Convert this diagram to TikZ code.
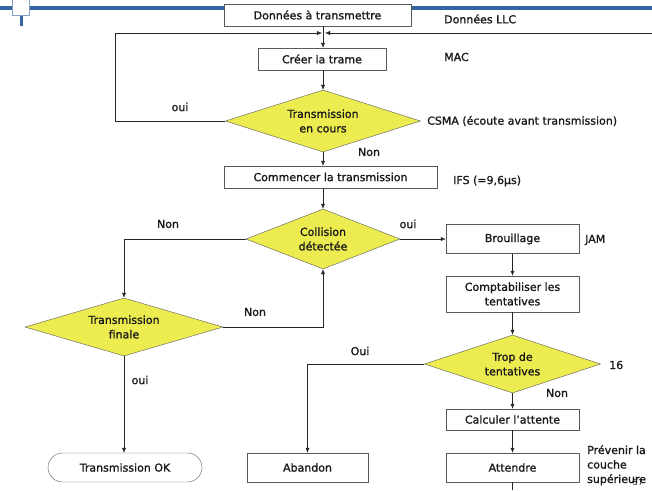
\documentclass[tikz,border=0pt]{standalone}
\usepackage{fontspec}
\setmainfont{DejaVu Sans}[BoldFont=DejaVu Sans, BoldFeatures={FakeBold=1.3}]
\usepackage{xcolor}
\usetikzlibrary{shapes.geometric,arrows.meta,positioning}
\definecolor{jaune}{RGB}{236,236,80}
\definecolor{bleu}{RGB}{52,101,160}

\begin{document}
\begin{tikzpicture}[x=1pt,y=-1pt,
  every node/.style={font=\fontsize{11}{14.5}\selectfont\bfseries, text=black!90},
  boite/.style={draw=black!65, fill=white, rectangle, inner sep=0pt, align=center},
  test/.style={draw=black!65, fill=jaune, diamond, inner sep=0pt, align=center},
  lab/.style={anchor=west, inner sep=0pt},
  fl/.style={-{Latex[length=5pt,width=4pt]}, draw=black!85},
  ln/.style={draw=black!85}]
\useasboundingbox (0,0) rectangle (652,490);

% Slide decoration
\fill[bleu] (0,6) rectangle (224,10);
\fill[bleu] (411,6) rectangle (652,10);
\fill[bleu] (20,15) rectangle (23,26);
\draw[bleu!60, fill=white] (12.5,-1) rectangle (29.5,15.5);

% Main column
\node[boite, minimum width=187pt, minimum height=22pt] (donnees) at (317.5,15) {Données à transmettre};
\coordinate (jonction) at (323,33);
\node[boite, minimum width=128pt, minimum height=22pt] (creer) at (322,59) {Créer la trame};
\node[test, shape aspect=3, minimum width=195pt, minimum height=62pt] (encours) at (323,121) {Transmission\\en cours};
\node[boite, minimum width=213pt, minimum height=22pt] (commencer) at (330.5,177) {Commencer la transmission};
\node[test, shape aspect=2.6, minimum width=154pt, minimum height=60pt] (collision) at (323,239) {Collision\\détectée};

% Right column
\node[boite, minimum width=133pt, minimum height=29pt] (brouillage) at (512.5,239) {Brouillage};
\node[boite, minimum width=133pt, minimum height=36pt] (compter) at (512.5,294) {Comptabiliser les\\tentatives};
\node[test, shape aspect=3, minimum width=176pt, minimum height=58pt] (trop) at (512.5,364) {Trop de\\tentatives};
\node[boite, minimum width=133pt, minimum height=21pt] (calculer) at (512.5,419.5) {Calculer l’attente};
\node[boite, minimum width=133pt, minimum height=29pt] (attendre) at (512.5,467.5) {Attendre};
\node[boite, minimum width=121pt, minimum height=29pt] (abandon) at (307.5,467.5) {Abandon};

% Left column
\node[test, shape aspect=3.4, minimum width=198pt, minimum height=58pt] (finale) at (124,327) {Transmission\\finale};
\node[boite, rounded corners=14.5pt, minimum width=154pt, minimum height=29pt] (ok) at (125,467.5) {Transmission OK};

% Connectors
\draw[ln] (donnees.south -| jonction) -- (jonction);
\draw[fl] (jonction) -- (jonction |- creer.north);
\draw[fl] (652,33) -- ([xshift=2pt]jonction);
\draw[fl] (encours.west) -- (115,121) -- (115,33) -- ([xshift=-1pt]jonction);
\draw[fl] (creer.south -| encours.north) -- (encours.north);
\draw[fl] (encours.south) -- (encours.south |- commencer.north);
\draw[fl] (commencer.south -| collision.north) -- (collision.north);
\draw[fl] (collision.east) -- (brouillage.west);
\draw[fl] (collision.west) -| (finale.north);
\draw[fl] (finale.east) -| (collision.south);
\draw[fl] (finale.south) -- (finale.south |- ok.north);
\draw[fl] (brouillage.south) -- (compter.north);
\draw[fl] (compter.south) -- (trop.north);
\draw[fl] (trop.west) -| (abandon.north);
\draw[fl] (trop.south) -- (calculer.north);
\draw[fl] (calculer.south) -- (attendre.north);
\draw[ln] (attendre.south) -- (512.5,490);

% Labels
\node[lab] (llc) at (444,19) {Données LLC};
\node[lab] (mac) at (444,57) {MAC};
\node (oui1) at (180,107) {oui};
\node[lab] (csma) at (427,121) {CSMA (écoute avant transmission)};
\node (non1) at (369,152) {Non};
\node[lab] (ifs) at (453,181) {IFS (=9,6µs)};
\node (non2) at (168,224) {Non};
\node (oui2) at (408,224) {oui};
\node[lab] (jam) at (585,240) {JAM};
\node (non3) at (255,312) {Non};
\node (oui3) at (360,351) {Oui};
\node[lab] (seize) at (609,365) {16};
\node (non4) at (557,393) {Non};
\node (oui4) at (140,380) {oui};
\node[anchor=north west, inner sep=0pt, align=left] (prevenir) at (587,445) {Prévenir la\\couche\\supérieure};
\node[font=\fontsize{8}{9}\selectfont] (page) at (638,483) {57};
\end{tikzpicture}
\end{document}
